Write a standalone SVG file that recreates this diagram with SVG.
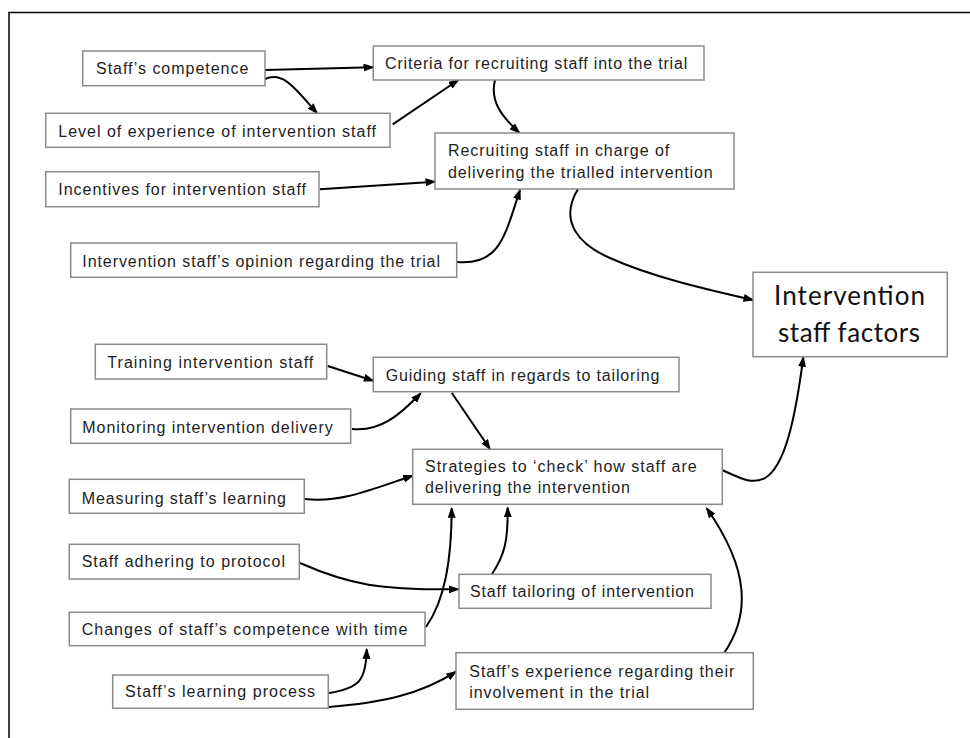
<svg xmlns="http://www.w3.org/2000/svg" width="970" height="738" viewBox="0 0 970 738">
  <defs>
    <marker id="arrow" markerUnits="userSpaceOnUse" markerWidth="11" markerHeight="8" refX="9.5" refY="4" orient="auto">
      <path d="M0,0 L11,4 L0,8 z" fill="#000"/>
    </marker>
    <style>
      .box { fill: #fff; stroke: #8a8a8a; stroke-width: 1.5; }
      .lbl { font-family: "Liberation Sans", Arial, sans-serif; font-size: 16px; fill: #1e1e1e; }
      .big { font-family: Lato, "Open Sans", sans-serif; font-size: 26px; fill: #111; }
      .edge { fill: none; stroke: #000; stroke-width: 2; marker-end: url(#arrow); }
    </style>
  </defs>

  <rect width="970" height="738" fill="#fff"/>
  <!-- outer frame (left and top edges) -->
  <path d="M9,738 V12.5 H970" fill="none" stroke="#000" stroke-width="1.5"/>

  <g id="connectors">
    <path class="edge" d="M265,70 L373,67.3"/>
    <path class="edge" d="M265,79 C283,71 295,88 317,113"/>
    <path class="edge" d="M392.7,124.3 L458.3,80"/>
    <path class="edge" d="M320,189.3 L435,181.7"/>
    <path class="edge" d="M495,80 C490,100 500,115 519.3,132.7"/>
    <path class="edge" d="M457,262 C500,266 505,235 520,190"/>
    <path class="edge" d="M578,189 C558,222 580,245 610,258 C650,276 700,288 753,300"/>
    <path class="edge" d="M327.7,366 L373.3,380.7"/>
    <path class="edge" d="M352,429 C380,432 400,415 420.7,393.3"/>
    <path class="edge" d="M451.7,392.7 L490,449"/>
    <path class="edge" d="M305,499 C340,503 370,490 412.7,475.7"/>
    <path class="edge" d="M722,470 C740,478 752,485 765,478 C785,466 795,420 803.3,357.3"/>
    <path class="edge" d="M426,627 C445,600 451.5,560 451.7,508.3"/>
    <path class="edge" d="M300,563 C350,585 380,590 458.3,589.3"/>
    <path class="edge" d="M492,574 C505,555 508,540 507.7,507.7"/>
    <path class="edge" d="M329,693 C360,688 366,680 366.7,649.3"/>
    <path class="edge" d="M329,707 C380,703 420,695 456,671.7"/>
    <path class="edge" d="M724.3,652.7 C750,615 750,570 706.7,508.3"/>
  </g>

  <g id="staff-competence">
    <rect class="box" x="82.7" y="51" width="182.3" height="34.7"/>
    <text class="lbl" x="96" y="74" textLength="152.3">Staff’s competence</text>
  </g>
  <g id="level-of-experience">
    <rect class="box" x="45.7" y="113.3" width="344.3" height="34"/>
    <text class="lbl" x="58.3" y="136.7" textLength="317.7">Level of experience of intervention staff</text>
  </g>
  <g id="incentives">
    <rect class="box" x="45.7" y="171.7" width="273.3" height="35"/>
    <text class="lbl" x="58.3" y="195" textLength="247.7">Incentives for intervention staff</text>
  </g>
  <g id="staff-opinion">
    <rect class="box" x="70.7" y="243" width="386" height="34.3"/>
    <text class="lbl" x="82.3" y="266.7" textLength="357.7">Intervention staff’s opinion regarding the trial</text>
  </g>
  <g id="recruiting-criteria">
    <rect class="box" x="373.3" y="46" width="330.7" height="34"/>
    <text class="lbl" x="385" y="69" textLength="302.3">Criteria for recruiting staff into the trial</text>
  </g>
  <g id="recruiting-staff">
    <rect class="box" x="435" y="133" width="299" height="56"/>
    <text class="lbl" x="448" y="156" textLength="221.3">Recruiting staff in charge of</text>
    <text class="lbl" x="448" y="178.3" textLength="264.7">delivering the trialled intervention</text>
  </g>
  <g id="staff-factors">
    <rect class="box" x="753" y="272.3" width="194.3" height="84.4"/>
    <text class="big" x="774" y="305" textLength="151">Intervention</text>
    <text class="big" x="778" y="342" textLength="142">staff factors</text>
  </g>
  <g id="training">
    <rect class="box" x="95.3" y="344.3" width="231.4" height="34.7"/>
    <text class="lbl" x="107.3" y="368.3" textLength="206">Training intervention staff</text>
  </g>
  <g id="guiding">
    <rect class="box" x="373.3" y="357.3" width="305.7" height="34.4"/>
    <text class="lbl" x="385.7" y="381" textLength="273.6">Guiding staff in regards to tailoring</text>
  </g>
  <g id="monitoring">
    <rect class="box" x="70.7" y="409" width="280" height="34.3"/>
    <text class="lbl" x="82.3" y="432.7" textLength="250.4">Monitoring intervention delivery</text>
  </g>
  <g id="strategies">
    <rect class="box" x="412.7" y="449.3" width="309.6" height="55"/>
    <text class="lbl" x="425" y="471.7" textLength="271.7">Strategies to ‘check’ how staff are</text>
    <text class="lbl" x="425" y="492.7" textLength="205">delivering the intervention</text>
  </g>
  <g id="measuring">
    <rect class="box" x="69.3" y="479.3" width="235" height="34"/>
    <text class="lbl" x="81.7" y="504" textLength="204.3">Measuring staff’s learning</text>
  </g>
  <g id="adhering">
    <rect class="box" x="69.3" y="544.3" width="230" height="34.7"/>
    <text class="lbl" x="81.7" y="567.3" textLength="203.3">Staff adhering to protocol</text>
  </g>
  <g id="tailoring">
    <rect class="box" x="459" y="574.3" width="252" height="34"/>
    <text class="lbl" x="470" y="597.3" textLength="224">Staff tailoring of intervention</text>
  </g>
  <g id="competence-change">
    <rect class="box" x="69.3" y="612.3" width="355.7" height="33.4"/>
    <text class="lbl" x="81.7" y="635" textLength="325.6">Changes of staff’s competence with time</text>
  </g>
  <g id="learning-process">
    <rect class="box" x="112.7" y="675" width="215.6" height="33.3"/>
    <text class="lbl" x="125" y="697.3" textLength="190">Staff’s learning process</text>
  </g>
  <g id="staff-experience">
    <rect class="box" x="456" y="652.7" width="297.3" height="56.6"/>
    <text class="lbl" x="469.3" y="676.7" textLength="265">Staff’s experience regarding their</text>
    <text class="lbl" x="469.3" y="698.3" textLength="179.7">involvement in the trial</text>
  </g>
</svg>
